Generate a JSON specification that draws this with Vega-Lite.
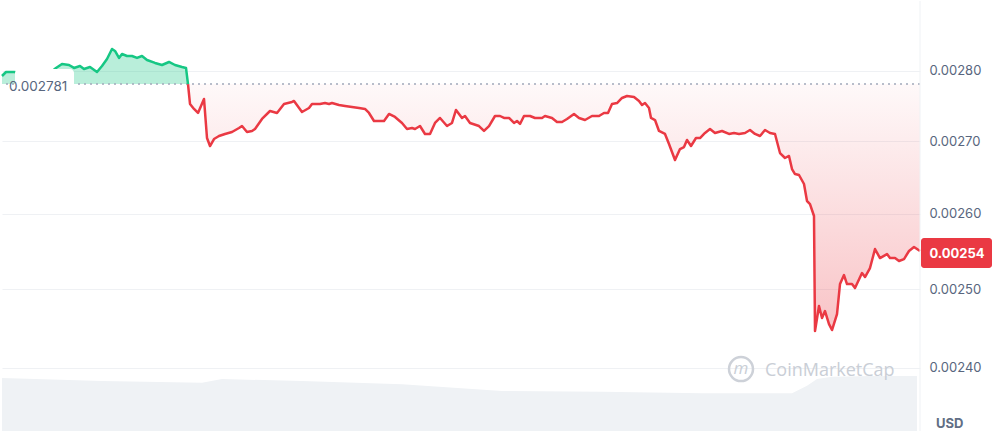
{
  "$schema": "https://vega.github.io/schema/vega-lite/v6.json",
  "width": 918,
  "height": 430,
  "padding": 0,
  "autosize": {"type": "pad"},
  "config": {"view": {"stroke": null}, "font": "Inter"},
  "datasets": {
    "up": [
      {"s": 0, "p": 0.0027927}, {"s": 4, "p": 0.0027985}, {"s": 12, "p": 0.0027985},
      {"s": 20, "p": 0.0027971}, {"s": 30, "p": 0.0027956}, {"s": 40, "p": 0.0027971},
      {"s": 48, "p": 0.0027971}, {"s": 54, "p": 0.0028044}, {"s": 60, "p": 0.0028102},
      {"s": 67, "p": 0.0028087}, {"s": 72, "p": 0.0028044}, {"s": 78, "p": 0.0028073},
      {"s": 82, "p": 0.0028029}, {"s": 88, "p": 0.0028058}, {"s": 95, "p": 0.0027985},
      {"s": 100, "p": 0.0028073}, {"s": 105, "p": 0.0028175}, {"s": 110, "p": 0.0028322},
      {"s": 113, "p": 0.0028292}, {"s": 117, "p": 0.002819}, {"s": 120, "p": 0.0028248},
      {"s": 125, "p": 0.0028219}, {"s": 130, "p": 0.0028219}, {"s": 135, "p": 0.002819},
      {"s": 140, "p": 0.0028219}, {"s": 145, "p": 0.002816}, {"s": 153, "p": 0.0028117},
      {"s": 160, "p": 0.0028087}, {"s": 167, "p": 0.0028131}, {"s": 173, "p": 0.0028087},
      {"s": 180, "p": 0.0028058}, {"s": 184, "p": 0.0028044}, {"s": 186, "p": 0.002781}
    ],
    "down": [
      {"s": 186, "p": 0.002781}, {"s": 188, "p": 0.0027524}, {"s": 192, "p": 0.0027453},
      {"s": 196, "p": 0.0027396}, {"s": 202, "p": 0.0027596}, {"s": 205, "p": 0.0027042},
      {"s": 208, "p": 0.002693}, {"s": 212, "p": 0.0027028}, {"s": 217, "p": 0.002707},
      {"s": 223, "p": 0.0027099}, {"s": 230, "p": 0.0027127}, {"s": 237, "p": 0.0027183},
      {"s": 240, "p": 0.0027211}, {"s": 245, "p": 0.0027127}, {"s": 250, "p": 0.0027141},
      {"s": 253, "p": 0.0027169}, {"s": 260, "p": 0.0027311}, {"s": 268, "p": 0.0027424},
      {"s": 275, "p": 0.0027396}, {"s": 282, "p": 0.0027524}, {"s": 290, "p": 0.0027553},
      {"s": 292, "p": 0.0027567}, {"s": 300, "p": 0.002741}, {"s": 307, "p": 0.0027467},
      {"s": 310, "p": 0.0027524}, {"s": 318, "p": 0.0027524}, {"s": 323, "p": 0.0027538},
      {"s": 327, "p": 0.0027524}, {"s": 330, "p": 0.0027538}, {"s": 337, "p": 0.002751},
      {"s": 343, "p": 0.0027496}, {"s": 350, "p": 0.0027481}, {"s": 357, "p": 0.0027467},
      {"s": 363, "p": 0.0027453}, {"s": 367, "p": 0.0027396}, {"s": 372, "p": 0.0027282},
      {"s": 377, "p": 0.0027282}, {"s": 382, "p": 0.0027282}, {"s": 387, "p": 0.0027382},
      {"s": 393, "p": 0.0027339}, {"s": 400, "p": 0.0027254}, {"s": 405, "p": 0.0027169},
      {"s": 410, "p": 0.0027183}, {"s": 413, "p": 0.0027169}, {"s": 418, "p": 0.0027211},
      {"s": 423, "p": 0.0027099}, {"s": 428, "p": 0.0027099}, {"s": 433, "p": 0.0027254},
      {"s": 438, "p": 0.0027325}, {"s": 445, "p": 0.0027211}, {"s": 450, "p": 0.0027254},
      {"s": 454, "p": 0.0027439}, {"s": 460, "p": 0.0027325}, {"s": 463, "p": 0.0027353},
      {"s": 468, "p": 0.0027254}, {"s": 477, "p": 0.0027211}, {"s": 482, "p": 0.0027141},
      {"s": 487, "p": 0.0027211}, {"s": 493, "p": 0.0027353}, {"s": 498, "p": 0.0027353},
      {"s": 502, "p": 0.0027325}, {"s": 507, "p": 0.0027325}, {"s": 512, "p": 0.0027254},
      {"s": 515, "p": 0.0027282}, {"s": 518, "p": 0.002724}, {"s": 522, "p": 0.0027353},
      {"s": 528, "p": 0.0027353}, {"s": 533, "p": 0.0027325}, {"s": 540, "p": 0.0027325},
      {"s": 543, "p": 0.0027353}, {"s": 550, "p": 0.0027325}, {"s": 555, "p": 0.0027268},
      {"s": 560, "p": 0.0027268}, {"s": 565, "p": 0.0027311}, {"s": 572, "p": 0.0027382},
      {"s": 577, "p": 0.0027325}, {"s": 583, "p": 0.0027296}, {"s": 590, "p": 0.0027353},
      {"s": 597, "p": 0.0027353}, {"s": 602, "p": 0.0027396}, {"s": 606, "p": 0.0027396},
      {"s": 610, "p": 0.0027524}, {"s": 615, "p": 0.0027538}, {"s": 620, "p": 0.002761},
      {"s": 625, "p": 0.0027639}, {"s": 632, "p": 0.0027624}, {"s": 637, "p": 0.0027567},
      {"s": 640, "p": 0.002751}, {"s": 643, "p": 0.0027538}, {"s": 647, "p": 0.0027467},
      {"s": 649, "p": 0.0027325}, {"s": 653, "p": 0.0027296}, {"s": 657, "p": 0.0027141},
      {"s": 663, "p": 0.0027099}, {"s": 667, "p": 0.0026958}, {"s": 673, "p": 0.0026735},
      {"s": 678, "p": 0.0026888}, {"s": 682, "p": 0.0026916}, {"s": 685, "p": 0.0027014},
      {"s": 689, "p": 0.002693}, {"s": 694, "p": 0.0027042}, {"s": 698, "p": 0.0027042},
      {"s": 703, "p": 0.0027113}, {"s": 708, "p": 0.0027169}, {"s": 713, "p": 0.0027113},
      {"s": 720, "p": 0.0027141}, {"s": 727, "p": 0.0027099}, {"s": 732, "p": 0.0027113},
      {"s": 737, "p": 0.0027099}, {"s": 743, "p": 0.0027113}, {"s": 748, "p": 0.0027155},
      {"s": 753, "p": 0.0027099}, {"s": 758, "p": 0.002707}, {"s": 763, "p": 0.0027155},
      {"s": 768, "p": 0.0027113}, {"s": 773, "p": 0.0027099}, {"s": 778, "p": 0.0026832},
      {"s": 783, "p": 0.0026763}, {"s": 787, "p": 0.0026791}, {"s": 790, "p": 0.002661},
      {"s": 793, "p": 0.0026541}, {"s": 797, "p": 0.0026528}, {"s": 802, "p": 0.0026404},
      {"s": 805, "p": 0.0026172}, {"s": 808, "p": 0.0026131}, {"s": 812, "p": 0.0025969},
      {"s": 813, "p": 0.0024463}, {"s": 817, "p": 0.0024783}, {"s": 820, "p": 0.0024629},
      {"s": 823, "p": 0.0024718}, {"s": 827, "p": 0.0024552}, {"s": 830, "p": 0.0024476},
      {"s": 835, "p": 0.002468}, {"s": 838, "p": 0.0025067}, {"s": 842, "p": 0.0025185},
      {"s": 845, "p": 0.0025067}, {"s": 850, "p": 0.0025067}, {"s": 853, "p": 0.0025015},
      {"s": 860, "p": 0.0025211}, {"s": 863, "p": 0.0025159}, {"s": 868, "p": 0.0025277},
      {"s": 873, "p": 0.0025527}, {"s": 878, "p": 0.0025408}, {"s": 885, "p": 0.0025461},
      {"s": 888, "p": 0.0025408}, {"s": 893, "p": 0.0025408}, {"s": 897, "p": 0.0025369},
      {"s": 902, "p": 0.0025395}, {"s": 907, "p": 0.0025501}, {"s": 912, "p": 0.0025554},
      {"s": 918, "p": 0.0025501}
    ],
    "vol": [
      {"s": 0, "v": 12.3}, {"s": 100, "v": 11.6}, {"s": 200, "v": 11.2}, {"s": 220, "v": 12.1},
      {"s": 300, "v": 11.6}, {"s": 400, "v": 10.9}, {"s": 500, "v": 9.3}, {"s": 600, "v": 9.1},
      {"s": 700, "v": 8.8}, {"s": 790, "v": 8.8}, {"s": 805, "v": 10.5}, {"s": 815, "v": 12.1},
      {"s": 830, "v": 12.6}, {"s": 870, "v": 12.8}, {"s": 915, "v": 12.8}
    ]
  },
  "layer": [
    {
      "data": {"name": "vol"},
      "mark": {"type": "area", "color": "#eff2f5"},
      "encoding": {
        "x": {"field": "s", "type": "quantitative", "scale": {"domain": [0, 918], "nice": false, "zero": false}, "axis": null},
        "y": {"field": "v", "type": "quantitative", "scale": {"domain": [0, 100]}, "axis": null}
      }
    },
    {
      "data": {"name": "down"},
      "mark": {
        "type": "area",
        "fill": {
          "x1": 0, "y1": 0, "x2": 0, "y2": 1, "gradient": "linear",
          "stops": [
            {"offset": 0, "color": "rgba(234,57,67,0.03)"},
            {"offset": 1, "color": "rgba(234,57,67,0.3)"}
          ]
        }
      },
      "encoding": {
        "x": {"field": "s", "type": "quantitative", "scale": {"domain": [0, 918], "nice": false, "zero": false}, "axis": null},
        "y": {
          "field": "p", "type": "quantitative",
          "scale": {"type": "log", "domain": [0.0023226, 0.0029036], "nice": false},
          "axis": {
            "orient": "right", "title": null, "values": [0.0024, 0.0025, 0.0026, 0.0027, 0.0028],
            "format": ".5f", "domain": false, "ticks": false, "labelPadding": 9,
            "labelFontSize": 13, "labelColor": "#58667e", "labelFont": "Inter",
            "gridColor": "#eff1f4", "grid": true, "zindex": 0
          }
        },
        "y2": {"datum": 0.002781}
      }
    },
    {
      "data": {"name": "up"},
      "mark": {"type": "area", "fill": "#16c784", "fillOpacity": 0.3},
      "encoding": {
        "x": {"field": "s", "type": "quantitative", "scale": {"domain": [0, 918], "nice": false, "zero": false}, "axis": null},
        "y": {"field": "p", "type": "quantitative", "scale": {"type": "log", "domain": [0.0023226, 0.0029036], "nice": false}, "axis": null},
        "y2": {"datum": 0.002781}
      }
    },
    {
      "data": {"values": [{"base": 0.002781}]},
      "mark": {"type": "rule", "color": "#a1a9bb", "strokeDash": [2, 4], "strokeWidth": 1.5},
      "encoding": {
        "y": {"field": "base", "type": "quantitative", "scale": {"type": "log", "domain": [0.0023226, 0.0029036], "nice": false}, "axis": null}
      }
    },
    {
      "data": {"name": "down"},
      "mark": {"type": "line", "color": "#ea3943", "strokeWidth": 2.5, "strokeJoin": "round"},
      "encoding": {
        "x": {"field": "s", "type": "quantitative", "scale": {"domain": [0, 918], "nice": false, "zero": false}, "axis": null},
        "y": {"field": "p", "type": "quantitative", "scale": {"type": "log", "domain": [0.0023226, 0.0029036], "nice": false}, "axis": null}
      }
    },
    {
      "data": {"name": "up"},
      "mark": {"type": "line", "color": "#16c784", "strokeWidth": 2.5, "strokeJoin": "round"},
      "encoding": {
        "x": {"field": "s", "type": "quantitative", "scale": {"domain": [0, 918], "nice": false, "zero": false}, "axis": null},
        "y": {"field": "p", "type": "quantitative", "scale": {"type": "log", "domain": [0.0023226, 0.0029036], "nice": false}, "axis": null}
      }
    },
    {
      "data": {"values": [{"s0": 13, "s1": 72, "p0": 0.0028029, "p1": 0.002761}]},
      "mark": {"type": "rect", "fill": "#ffffff", "cornerRadius": 4},
      "encoding": {
        "x": {"field": "s0", "type": "quantitative", "scale": {"domain": [0, 918], "nice": false, "zero": false}, "axis": null},
        "x2": {"field": "s1"},
        "y": {"field": "p0", "type": "quantitative", "scale": {"type": "log", "domain": [0.0023226, 0.0029036], "nice": false}, "axis": null},
        "y2": {"field": "p1"}
      }
    },
    {
      "data": {"values": [{"s": 7, "p": 0.0027768, "label": "0.002781"}]},
      "mark": {"type": "text", "align": "left", "baseline": "middle", "fontSize": 13.5, "color": "#58667e", "font": "Inter"},
      "encoding": {
        "x": {"field": "s", "type": "quantitative", "scale": {"domain": [0, 918], "nice": false, "zero": false}, "axis": null},
        "y": {"field": "p", "type": "quantitative", "scale": {"type": "log", "domain": [0.0023226, 0.0029036], "nice": false}, "axis": null},
        "text": {"field": "label"}
      }
    },
    {
      "data": {"values": [{"s0": 919, "s1": 990, "p0": 0.0025674, "p1": 0.0025277}]},
      "mark": {"type": "rect", "fill": "#ea3943", "cornerRadius": 3},
      "encoding": {
        "x": {"field": "s0", "type": "quantitative", "scale": {"domain": [0, 918], "nice": false, "zero": false}, "axis": null},
        "x2": {"field": "s1"},
        "y": {"field": "p0", "type": "quantitative", "scale": {"type": "log", "domain": [0.0023226, 0.0029036], "nice": false}, "axis": null},
        "y2": {"field": "p1"}
      }
    },
    {
      "data": {"values": [{"s": 955, "p": 0.0025461, "label": "0.00254"}]},
      "mark": {"type": "text", "align": "center", "baseline": "middle", "fontSize": 13, "fontWeight": "bold", "color": "#ffffff", "font": "Inter"},
      "encoding": {
        "x": {"field": "s", "type": "quantitative", "scale": {"domain": [0, 918], "nice": false, "zero": false}, "axis": null},
        "y": {"field": "p", "type": "quantitative", "scale": {"type": "log", "domain": [0.0023226, 0.0029036], "nice": false}, "axis": null},
        "text": {"field": "label"}
      }
    },
    {
      "data": {"values": [{"s": 934, "p": 0.002331, "label": "USD"}]},
      "mark": {"type": "text", "align": "left", "baseline": "middle", "fontSize": 13, "fontWeight": "bold", "color": "#616e85", "font": "Inter"},
      "encoding": {
        "x": {"field": "s", "type": "quantitative", "scale": {"domain": [0, 918], "nice": false, "zero": false}, "axis": null},
        "y": {"field": "p", "type": "quantitative", "scale": {"type": "log", "domain": [0.0023226, 0.0029036], "nice": false}, "axis": null},
        "text": {"field": "label"}
      }
    },
    {
      "data": {"values": [{"s": 739, "p": 0.0023985}]},
      "mark": {"type": "point", "shape": "circle", "size": 576, "filled": false, "stroke": "#cdd1d8", "strokeWidth": 2.5, "opacity": 1},
      "encoding": {
        "x": {"field": "s", "type": "quantitative", "scale": {"domain": [0, 918], "nice": false, "zero": false}, "axis": null},
        "y": {"field": "p", "type": "quantitative", "scale": {"type": "log", "domain": [0.0023226, 0.0029036], "nice": false}, "axis": null}
      }
    },
    {
      "data": {"values": [{"s": 739, "p": 0.0023985, "label": "m"}]},
      "mark": {"type": "text", "align": "center", "baseline": "middle", "fontSize": 17, "fontStyle": "italic", "color": "#c9ced6", "font": "Open Sans"},
      "encoding": {
        "x": {"field": "s", "type": "quantitative", "scale": {"domain": [0, 918], "nice": false, "zero": false}, "axis": null},
        "y": {"field": "p", "type": "quantitative", "scale": {"type": "log", "domain": [0.0023226, 0.0029036], "nice": false}, "axis": null},
        "text": {"field": "label"}
      }
    },
    {
      "data": {"values": [{"s": 763, "p": 0.002396, "label": "CoinMarketCap"}]},
      "mark": {"type": "text", "align": "left", "baseline": "middle", "fontSize": 18, "color": "#c9ced6", "font": "Open Sans"},
      "encoding": {
        "x": {"field": "s", "type": "quantitative", "scale": {"domain": [0, 918], "nice": false, "zero": false}, "axis": null},
        "y": {"field": "p", "type": "quantitative", "scale": {"type": "log", "domain": [0.0023226, 0.0029036], "nice": false}, "axis": null},
        "text": {"field": "label"}
      }
    },
    {
      "data": {"values": [{"edge": 918}]},
      "mark": {"type": "rule", "color": "#eff2f5", "strokeWidth": 1},
      "encoding": {"x": {"field": "edge", "type": "quantitative", "scale": {"domain": [0, 918], "nice": false, "zero": false}, "axis": null}}
    }
  ],
  "resolve": {"scale": {"y": "independent"}}
}
